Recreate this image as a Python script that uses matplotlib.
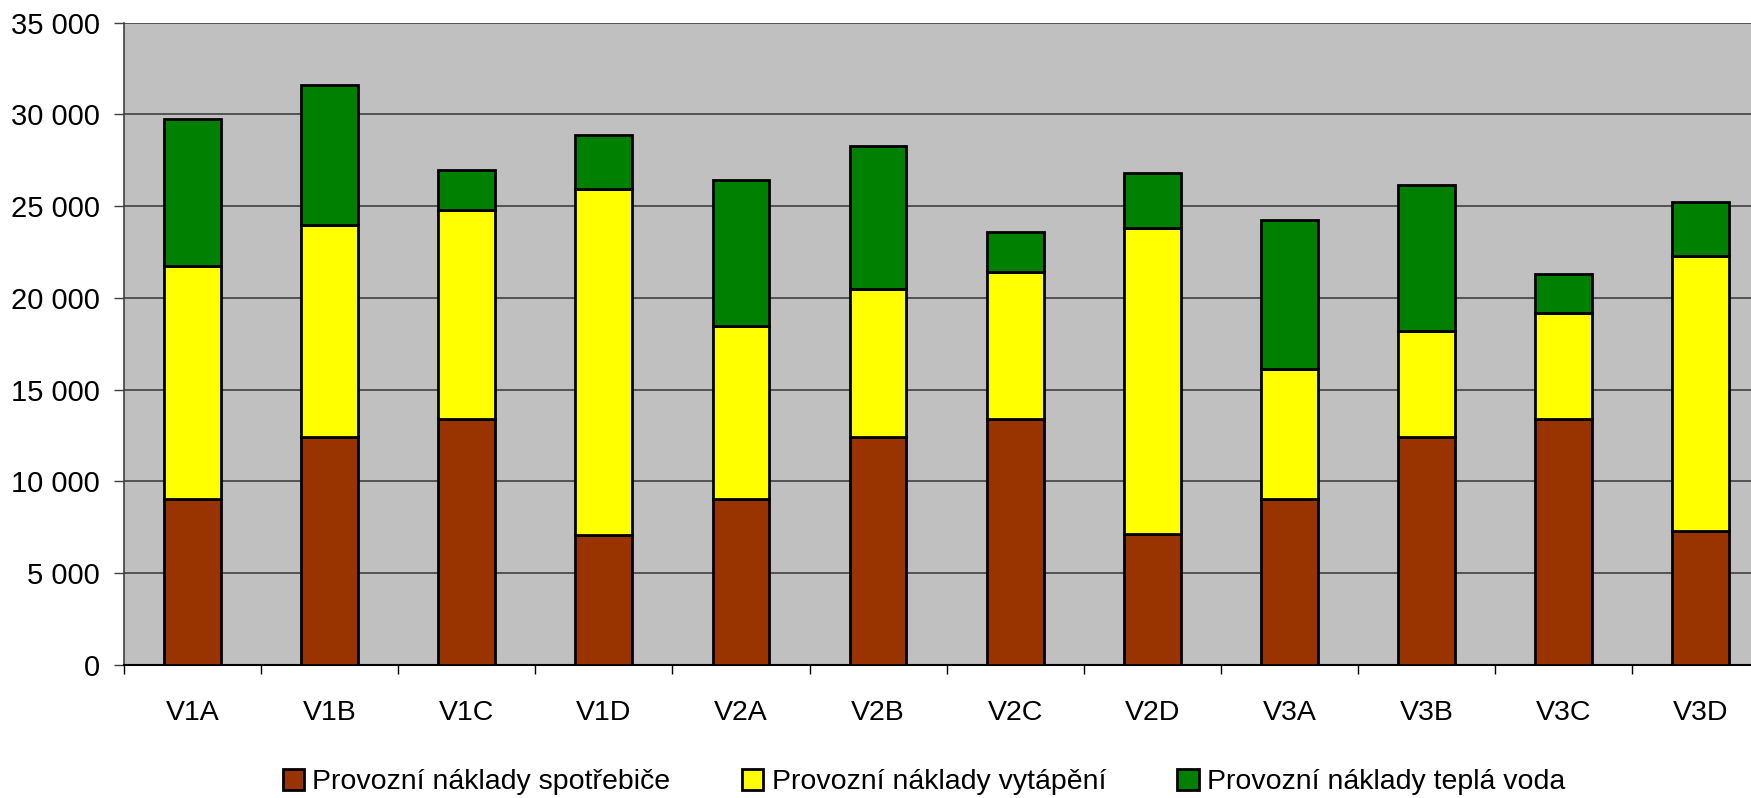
import numpy as np
import matplotlib
matplotlib.use("Agg")
import matplotlib.pyplot as plt
from matplotlib.ticker import FuncFormatter, FixedLocator

plt.rcParams['font.family'] = ['Liberation Sans', 'DejaVu Sans']

# varianty a provozní náklady (Kč / rok)
varianty = ['V1A', 'V1B', 'V1C', 'V1D', 'V2A', 'V2B', 'V2C', 'V2D',
            'V3A', 'V3B', 'V3C', 'V3D']
spotrebice = [9050, 12400, 13400, 7100, 9050, 12400, 13400, 7150,
              9050, 12400, 13400, 7300]
vytapeni = [12700, 11550, 11400, 18850, 9400, 8100, 8000, 16650,
            7100, 5800, 5800, 15000]
tepla_voda = [8000, 7650, 2150, 2950, 8000, 7800, 2200, 3000,
              8100, 7950, 2100, 2950]
nazvy = ['Provozní náklady spotřebiče', 'Provozní náklady vytápění',
         'Provozní náklady teplá voda']
barvy = ['#993300', '#FFFF00', '#008000']

W, H = 1751, 798
fig = plt.figure(figsize=(W / 100, H / 100), dpi=100)
ax = fig.add_axes([124 / W, (H - 665) / H, (W - 124) / W, (665 - 22.7) / H])
ax.set_facecolor('#C0C0C0')

x = np.arange(len(varianty))
spodek = np.zeros(len(varianty))
for hodnoty, nazev, barva in zip([spotrebice, vytapeni, tepla_voda], nazvy, barvy):
    ax.bar(x, hodnoty, width=0.415, bottom=spodek, color=barva,
           edgecolor='black', linewidth=2.0, label=nazev, zorder=3)
    spodek += np.array(hodnoty)

ax.set_ylim(0, 35000)
ax.set_yticks(np.arange(0, 35001, 5000))
ax.yaxis.set_major_formatter(FuncFormatter(lambda v, p: f'{int(v):,}'.replace(',', ' ')))
ax.grid(axis='y', color='#4a4a4a', linewidth=1.3, zorder=0)
ax.set_axisbelow(True)

# kategorie, okraj vpravo je oříznutý
ax.set_xlim(-0.5, -0.5 + (W - 124) / 137.1)
ax.set_xticks(x)
ax.set_xticklabels(varianty)
ax.xaxis.set_minor_locator(FixedLocator(np.arange(-0.5, 12, 1.0)))
ax.tick_params(axis='x', which='major', length=0, pad=25, labelsize=20.5)
ax.tick_params(axis='x', which='minor', length=6.5, width=1.0, color='black')
ax.tick_params(axis='y', length=7.2, width=1.0, pad=10, labelsize=21,
               color='#404040')

for s in ['top', 'right']:
    ax.spines[s].set_visible(False)
ax.spines['left'].set_color('#404040')
ax.spines['left'].set_linewidth(1.2)
ax.spines['bottom'].set_color('black')
ax.spines['bottom'].set_linewidth(1.5)

fig.legend(loc='center', bbox_to_anchor=(924 / W, 1 - 782 / H), ncol=3,
           frameon=False, fontsize=20.5, handlelength=0.75, handleheight=0.75,
           handletextpad=0.3, columnspacing=2.5)

fig.savefig('out.png', dpi=100)
